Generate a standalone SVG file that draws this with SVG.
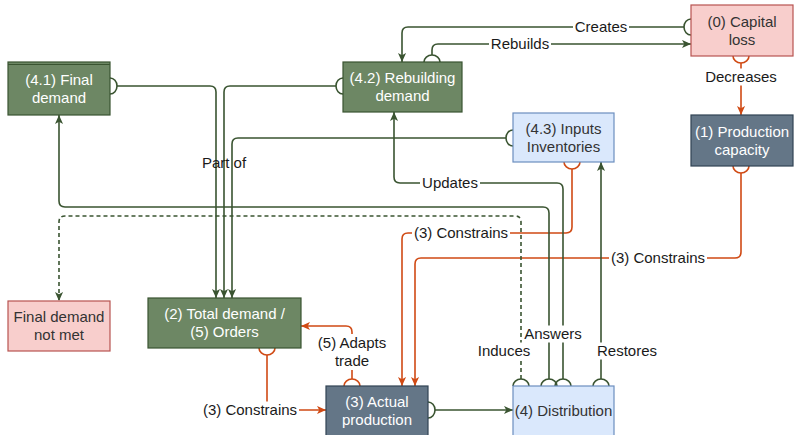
<svg xmlns="http://www.w3.org/2000/svg" width="794" height="435" viewBox="0 0 794 435">
<style>
  .t { font-family: "Liberation Sans", Arial, Helvetica, sans-serif; font-size: 15px; text-anchor: middle; }
  .nw { fill: #ffffff; }
  .nd { fill: #333333; }
  .el { fill: #1a1a1a; }
  .g { fill: none; stroke: #3A5431; stroke-width: 1.6; }
  .o { fill: none; stroke: #D04A14; stroke-width: 1.6; }
  .dash { stroke-dasharray: 4 3; }
  .bg { fill: #ffffff; }
  .green { fill: #6d8764; stroke: #3A5431; stroke-width: 1.2; }
  .slate { fill: #647687; stroke: #314354; stroke-width: 1.2; }
  .blue { fill: #dae8fc; stroke: #6c8ebf; stroke-width: 1.2; }
  .pink { fill: #f8cecc; stroke: #b85450; stroke-width: 1.2; }
</style>
<defs>
  <marker id="arrG" markerUnits="userSpaceOnUse" markerWidth="9" markerHeight="9" viewBox="0 0 10 10" refX="10" refY="5" orient="auto">
    <path d="M0,0.5 L10,5 L0,9.5 L2.5,5 Z" fill="#3A5431"/>
  </marker>
  <marker id="arrO" markerUnits="userSpaceOnUse" markerWidth="9" markerHeight="9" viewBox="0 0 10 10" refX="10" refY="5" orient="auto">
    <path d="M0,0.5 L10,5 L0,9.5 L2.5,5 Z" fill="#D04A14"/>
  </marker>
  <marker id="hcG" markerUnits="userSpaceOnUse" markerWidth="12" markerHeight="20" viewBox="-2 -10 12 20" refX="7" refY="0" orient="auto">
    <path d="M0,-8 A7,8 0 0 1 0,8" fill="none" stroke="#3A5431" stroke-width="1.6"/>
  </marker>
  <marker id="hcO" markerUnits="userSpaceOnUse" markerWidth="12" markerHeight="20" viewBox="-2 -10 12 20" refX="7" refY="0" orient="auto">
    <path d="M0,-8 A7,8 0 0 1 0,8" fill="none" stroke="#D04A14" stroke-width="1.6"/>
  </marker>
</defs>
<rect x="0" y="0" width="794" height="435" fill="#ffffff"/>

<g id="connectors">
  <!-- Creates -->
  <path class="g" d="M684,27 H408 Q402,27 402,33 V62" marker-start="url(#hcG)" marker-end="url(#arrG)"/>
  <!-- Rebuilds -->
  <path class="g" d="M432,55 V50 Q432,44 438,44 H691" marker-start="url(#hcG)" marker-end="url(#arrG)"/>
  <!-- Decreases -->
  <path class="o" d="M741,63 V115" marker-start="url(#hcO)" marker-end="url(#arrO)"/>
  <!-- (1) -> (3) Constrains -->
  <path class="o" d="M741,173 V252 Q741,258 735,258 H421 Q415,258 415,264 V386" marker-start="url(#hcO)" marker-end="url(#arrO)"/>
  <!-- (4.3) -> (3) Constrains -->
  <path class="o" d="M572,169 V227 Q572,233 566,233 H408 Q402,233 402,239 V386" marker-start="url(#hcO)" marker-end="url(#arrO)"/>
  <!-- Restores -->
  <path class="g" d="M601,379 V162" marker-start="url(#hcG)" marker-end="url(#arrG)"/>
  <!-- Updates -->
  <path class="g" d="M563,379 V189 Q563,183 557,183 H400 Q394,183 394,177 V112" marker-start="url(#hcG)" marker-end="url(#arrG)"/>
  <!-- Answers -->
  <path class="g" d="M549,379 V213 Q549,207 543,207 H65 Q59,207 59,201 V115" marker-start="url(#hcG)" marker-end="url(#arrG)"/>
  <!-- Induces -->
  <path class="g dash" d="M521,379 V222 Q521,216 515,216 H65 Q59,216 59,222 V301" marker-start="url(#hcG)" marker-end="url(#arrG)"/>
  <!-- Part of -->
  <path class="g" d="M117,86 H210 Q216,86 216,92 V298" marker-start="url(#hcG)" marker-end="url(#arrG)"/>
  <path class="g" d="M336,86 H230 Q224,86 224,92 V298" marker-start="url(#hcG)" marker-end="url(#arrG)"/>
  <path class="g" d="M506,138 H238 Q232,138 232,144 V298" marker-start="url(#hcG)" marker-end="url(#arrG)"/>
  <!-- (2) -> (3) Constrains -->
  <path class="o" d="M267,355 V404 Q267,410 273,410 H326" marker-start="url(#hcO)" marker-end="url(#arrO)"/>
  <!-- (3) -> (2) Adapts trade -->
  <path class="o" d="M352,379 V332 Q352,326 346,326 H301" marker-start="url(#hcO)" marker-end="url(#arrO)"/>
  <!-- (3) -> (4) -->
  <path class="g" d="M435,410 H513" marker-start="url(#hcG)" marker-end="url(#arrG)"/>

  <!-- labels -->
  <rect class="bg" x="573" y="18.5" width="56" height="17"/>
  <text class="t el" x="601" y="32">Creates</text>
  <rect class="bg" x="489" y="35.5" width="62" height="17"/>
  <text class="t el" x="520" y="49">Rebuilds</text>
  <rect class="bg" x="703" y="68.5" width="76" height="17"/>
  <text class="t el" x="741" y="82">Decreases</text>
  <rect class="bg" x="609" y="249.5" width="98" height="17"/>
  <text class="t el" x="658" y="263">(3) Constrains</text>
  <rect class="bg" x="412" y="224.5" width="98" height="17"/>
  <text class="t el" x="461" y="238">(3) Constrains</text>
  <rect class="bg" x="420" y="174.5" width="60" height="17"/>
  <text class="t el" x="450" y="188">Updates</text>
  <rect class="bg" x="522" y="325.5" width="62" height="17"/>
  <text class="t el" x="553" y="339">Answers</text>
  <rect class="bg" x="476" y="342.5" width="56" height="17"/>
  <text class="t el" x="504" y="356">Induces</text>
  <rect class="bg" x="595" y="342.5" width="64" height="17"/>
  <text class="t el" x="627" y="356">Restores</text>
  <rect class="bg" x="201" y="401.5" width="98" height="17"/>
  <text class="t el" x="250" y="415">(3) Constrains</text>
  <rect class="bg" x="316" y="334" width="73" height="36"/>
  <text class="t el" x="352" y="348">(5) Adapts</text>
  <text class="t el" x="352" y="366">trade</text>
  <text class="t el" x="224" y="168">Part of</text>
</g>

<g id="n41">
  <rect class="green" x="8" y="62" width="102" height="53"/>
  <line x1="8" y1="64.5" x2="110" y2="64.5" stroke="#3A5431" stroke-width="1"/>
  <text class="t nw" x="59" y="84.5">(4.1) Final</text>
  <text class="t nw" x="59" y="102.5">demand</text>
</g>
<g id="n42">
  <rect class="green" x="343" y="62" width="119" height="50"/>
  <text class="t nw" x="402.5" y="83">(4.2) Rebuilding</text>
  <text class="t nw" x="402.5" y="101">demand</text>
</g>
<g id="n0">
  <rect class="pink" x="691" y="5" width="102" height="51"/>
  <text class="t nd" x="742" y="26.5">(0) Capital</text>
  <text class="t nd" x="742" y="44.5">loss</text>
</g>
<g id="n1">
  <rect class="slate" x="691" y="115" width="102" height="51"/>
  <text class="t nw" x="742" y="136.5">(1) Production</text>
  <text class="t nw" x="742" y="154.5">capacity</text>
</g>
<g id="n43">
  <rect class="blue" x="513" y="113" width="101" height="49"/>
  <text class="t nd" x="563.5" y="133.5">(4.3) Inputs</text>
  <text class="t nd" x="563.5" y="151.5">Inventories</text>
</g>
<g id="nfdnm">
  <rect class="pink" x="8" y="301" width="102" height="50"/>
  <text class="t nd" x="59" y="322">Final demand</text>
  <text class="t nd" x="59" y="340">not met</text>
</g>
<g id="n2">
  <rect class="green" x="148" y="298" width="153" height="50"/>
  <text class="t nw" x="224.5" y="319">(2) Total demand /</text>
  <text class="t nw" x="224.5" y="337">(5) Orders</text>
</g>
<g id="n3">
  <rect class="slate" x="326" y="386" width="102" height="50"/>
  <text class="t nw" x="377" y="407">(3) Actual</text>
  <text class="t nw" x="377" y="425">production</text>
</g>
<g id="n4">
  <rect class="blue" x="513" y="386" width="101" height="50"/>
  <text class="t nd" x="563.5" y="416">(4) Distribution</text>
</g>
</svg>
